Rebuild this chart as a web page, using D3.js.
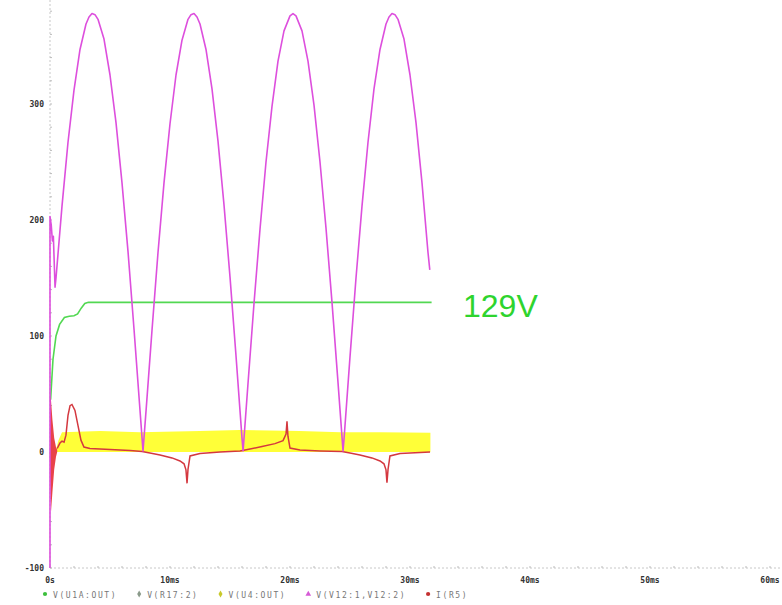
<!DOCTYPE html>
<html>
<head>
<meta charset="utf-8">
<script src="https://cdn.jsdelivr.net/npm/d3@7"></script>
<style>
  html, body { margin: 0; padding: 0; background: #fff; }
  svg { display: block; }
</style>
</head>
<body>
<svg id="chart" width="782" height="605"></svg>
<script>
// Transient simulation traces: time in ms, value in volts (current trace scaled alike)

// Rectified line voltage V(V12:1,V12:2)
const rectT = [0, 0, 0.1, 0.2, 0.28, 0.42, 0.5, 1.0, 1.5, 2.0, 2.5, 3.0, 3.25, 3.5, 3.75, 4.0, 4.5, 5.0, 5.5, 6.0, 6.5, 7.0, 7.5, 7.75,
  8.0, 8.5, 9.0, 9.5, 10.0, 10.5, 11.0, 11.5, 11.75, 12.0, 12.25, 12.5, 13.0, 13.5, 14.0, 14.5, 15.0, 15.5, 16.0, 16.09,
  16.5, 17.0, 17.5, 18.0, 18.5, 19.0, 19.5, 20.0, 20.25, 20.5, 21.0, 21.5, 22.0, 22.5, 23.0, 23.5, 24.0, 24.42,
  24.5, 25.0, 25.5, 26.0, 26.5, 27.0, 27.5, 28.0, 28.25, 28.5, 28.75, 29.0, 29.5, 30.0, 30.5, 31.0, 31.5, 31.65];
const rectV = [-100, 203, 196, 182, 186, 142, 150, 212, 267, 312, 347, 369, 375, 378, 377, 373, 356, 325, 284, 232, 173, 106, 36, 1,
  35, 105, 172, 232, 283, 325, 355, 373, 377, 378, 375, 369, 347, 313, 268, 213, 151, 83, 12, 1,
  59, 128, 192, 250, 298, 337, 363, 376, 378, 376, 363, 337, 299, 250, 193, 129, 60, 1,
  11, 82, 150, 212, 267, 313, 347, 369, 375, 378, 377, 373, 356, 325, 284, 232, 172, 157];

// Regulated output V(U1A:OUT)
const outT = [0.05, 0.25, 0.5, 0.8, 1.2, 1.6, 2.0, 2.3, 2.6, 2.9, 3.2, 31.8];
const outV = [45, 80, 100, 110, 116, 117, 117.5, 119, 124, 128, 129, 129];

// Switching node V(U4:OUT): fast toggling between 0 and the band top
const swT = [0.45, 0.7, 1.0, 4.2, 7.5, 12.5, 15.8, 20.8, 24.2, 27.5, 31.7];
const swTop = [0, 10, 17, 18, 17, 18, 19, 18, 17, 17, 16.5];

// I(R5): start-up ringing envelope
const ringT = [0, 0.08, 0.2, 0.35, 0.5, 0.6];
const ringHi = [48, 45, 28, 12, 4, 2];
const ringLo = [-20, -52, -35, -15, -4, 0];

// I(R5) afterwards
const curT = [0.6, 0.83, 1.0, 1.17, 1.33, 1.5, 1.67, 1.83, 2.08, 2.33, 2.58, 2.83, 3.33, 5.0, 6.67, 7.67,
  8.33, 9.17, 10.17, 10.83, 11.17, 11.33, 11.42, 11.5, 11.67, 12.5, 14.17, 15.83,
  16.67, 17.67, 18.75, 19.42, 19.67, 19.75, 19.83, 20.0, 20.83, 22.5, 24.33,
  25.0, 25.83, 26.83, 27.5, 27.83, 28.0, 28.08, 28.17, 28.33, 29.17, 31.67];
const curV = [3, 7.7, 9.4, 8.5, 14.5, 31.6, 40, 41, 35.8, 23, 10.2, 4.3, 3, 2.1, 1.3, 0.4,
  -0.9, -2.6, -5.1, -7.7, -10.2, -15.4, -27, -15, -3.4, -1.3, 0, 0.9,
  2.6, 4.7, 7.2, 9.8, 15.4, 26.4, 13.6, 3.4, 1.7, 0.9, 0.4,
  -0.9, -2.6, -5.1, -7.7, -10.2, -15.4, -26.4, -15, -3.4, -1.3, 0];

// Axis ticks
const xTicks = [0, 10, 20, 30, 40, 50, 60];
const xTickLabels = ["0s", "10ms", "20ms", "30ms", "40ms", "50ms", "60ms"];
const yTicks = [-100, 0, 100, 200, 300];
const yTickLabels = ["-100", "0", "100", "200", "300"];

// Legend entries
const legendNames = ["V(U1A:OUT)", "V(R17:2)", "V(U4:OUT)", "V(V12:1,V12:2)", "I(R5)"];
const legendSymbols = ["circle", "diamond", "diamond", "triangle", "circle"];
const legendColors = ["#3bbf3b", "#8a9a8a", "#c9c92a", "#d65ad6", "#c43030"];

const outLabel = "129V";

const svg = d3.select("#chart");
const W = 782, H = 605;
svg.append("rect").attr("width", W).attr("height", H).attr("fill", "#fff");

const x = d3.scaleLinear().domain([0, 61]).range([50, 782]);
const y = d3.scaleLinear().domain([-100, 300]).range([568, 104]);

const zip = (a, b) => a.map((t, i) => [t, b[i]]);

// Axes
const xAxis = svg.append("g").attr("transform", `translate(0,${y(-100)})`);
xAxis.append("line").attr("x1", x(0)).attr("x2", W).attr("stroke", "#c8c8c8")
  .attr("stroke-dasharray", "2,2");
xAxis.selectAll("line.minor").data(d3.range(0, 62, 2)).join("line")
  .attr("class", "minor").attr("x1", d => x(d)).attr("x2", d => x(d))
  .attr("y1", -2).attr("y2", 0).attr("stroke", "#bbb");
xAxis.selectAll("text").data(xTicks).join("text")
  .attr("x", d => x(d)).attr("y", 15)
  .attr("text-anchor", "middle")
  .attr("font-family", "DejaVu Sans Mono, monospace").attr("font-size", 8).attr("font-weight", "bold")
  .attr("fill", "#333")
  .text((d, i) => xTickLabels[i]);

const yAxis = svg.append("g").attr("transform", `translate(${x(0)},0)`);
yAxis.append("line").attr("y1", 0).attr("y2", y(-100)).attr("stroke", "#c8c8c8")
  .attr("stroke-dasharray", "2,2");
yAxis.selectAll("line.minor").data(d3.range(-100, 390, 20)).join("line")
  .attr("class", "minor").attr("y1", d => y(d)).attr("y2", d => y(d))
  .attr("x1", 0).attr("x2", 2).attr("stroke", "#bbb");
yAxis.selectAll("text").data(yTicks).join("text")
  .attr("x", -6).attr("y", d => y(d) + 3)
  .attr("text-anchor", "end")
  .attr("font-family", "DejaVu Sans Mono, monospace").attr("font-size", 8).attr("font-weight", "bold")
  .attr("fill", "#333")
  .text((d, i) => yTickLabels[i]);

const line = d3.line().x(d => x(d[0])).y(d => y(d[1]));

// Switching node band
const swArea = d3.area().x(d => x(d[0])).y0(y(0)).y1(d => y(d[1]));
svg.append("path").datum(zip(swT, swTop)).attr("d", swArea).attr("fill", "#ffff38");

// Output voltage
svg.append("path").datum(zip(outT, outV)).attr("d", line)
  .attr("fill", "none").attr("stroke", "#52d852").attr("stroke-width", 1.6);

// Current: ringing envelope then trace
const ringArea = d3.area().x(d => x(d[0])).y0(d => y(d[2])).y1(d => y(d[1]));
svg.append("path").datum(ringT.map((t, i) => [t, ringHi[i], ringLo[i]])).attr("d", ringArea)
  .attr("fill", "#e8434a");
svg.append("path").datum(zip(curT, curV)).attr("d", line)
  .attr("fill", "none").attr("stroke", "#d4383f").attr("stroke-width", 1.5);

// Rectified voltage
svg.append("path").datum(zip(rectT, rectV)).attr("d", line)
  .attr("fill", "none").attr("stroke", "#dd4fdd").attr("stroke-width", 1.6)
  .attr("stroke-linejoin", "round");

// Output annotation
svg.append("text").attr("x", 463).attr("y", 317)
  .attr("font-family", "Liberation Sans, Arial, sans-serif").attr("font-size", 32)
  .attr("fill", "#2ed42e").text(outLabel);

// Legend
const lg = svg.append("g").attr("transform", "translate(45,597)");
let lx = 0;
legendNames.forEach((name, i) => {
  const sym = legendSymbols[i] === "circle" ? d3.symbolCircle
    : legendSymbols[i] === "diamond" ? d3.symbolDiamond : d3.symbolTriangle;
  lg.append("path").attr("d", d3.symbol(sym, 14)())
    .attr("transform", `translate(${lx},-3)`).attr("fill", legendColors[i]);
  const t = lg.append("text").attr("x", lx + 8).attr("y", 1)
    .attr("font-family", "DejaVu Sans Mono, monospace").attr("font-size", 8)
    .attr("letter-spacing", 1.6)
    .attr("fill", "#777").text(name);
  lx += t.node().getComputedTextLength() + 30;
});
</script>
</body>
</html>
